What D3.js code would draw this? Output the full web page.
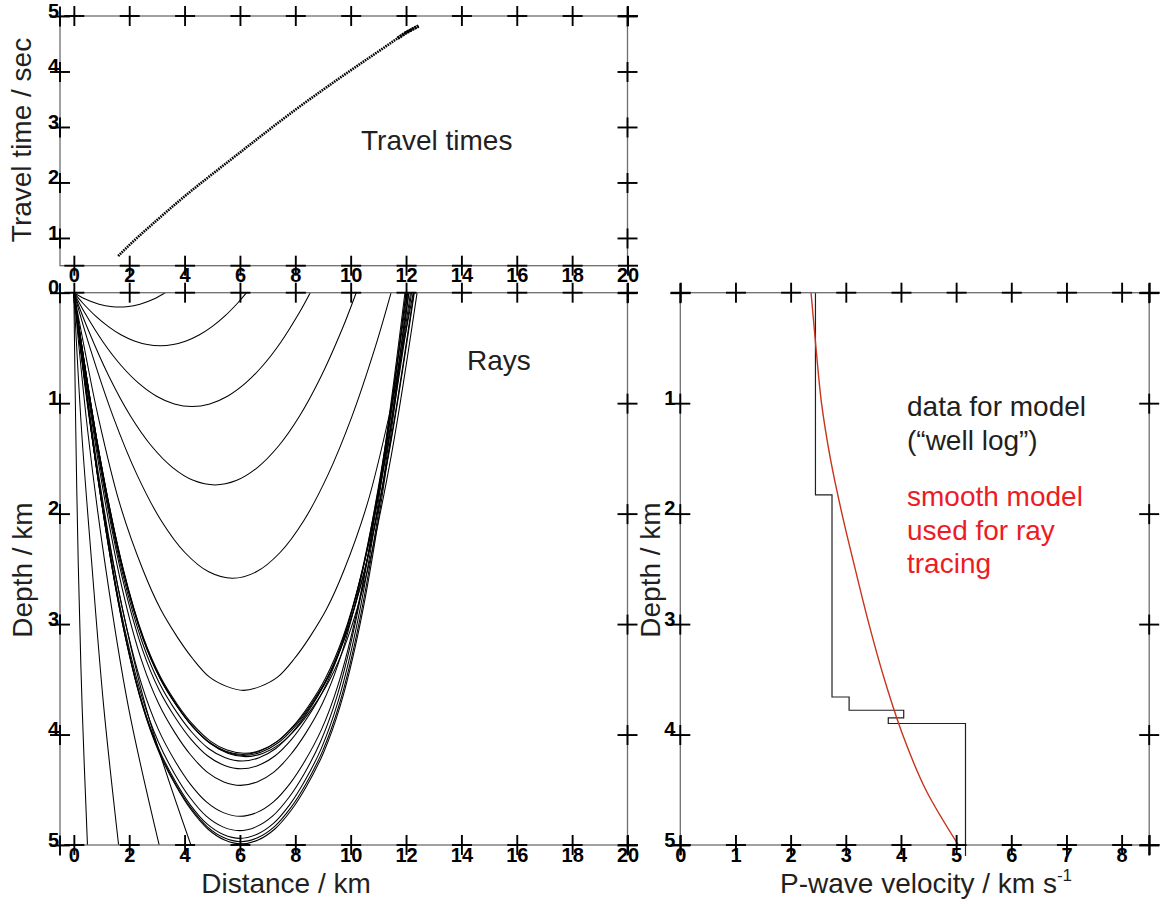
<!DOCTYPE html>
<html><head><meta charset="utf-8">
<script src="https://cdn.jsdelivr.net/npm/d3@7"></script>
<style>body{margin:0;background:#fff}svg{display:block}</style>
</head><body>
<svg id="c" width="1160" height="906"></svg>
<script>
// ---------------- data ----------------
const distTicks = [0,2,4,6,8,10,12,14,16,18,20];
const timeTicks = [1,2,3,4,5];
const depthTicks = [0,1,2,3,4,5];
const velTicks = [0,1,2,3,4,5,6,7,8];

// travel time picks (distance km, time s)
const ttDistance = [1.6, 2, 3, 4, 5, 6, 7, 8, 9, 10, 11, 11.7, 12, 12.45];
const ttTime     = [0.675, 0.87, 1.32, 1.75, 2.15, 2.54, 2.93, 3.31, 3.67, 4.02, 4.36, 4.60, 4.70, 4.82];
const ttClusterDistance = [11.7, 12.0, 12.45];
const ttClusterTime = [4.60, 4.70, 4.82];

// well log (step model)
const wellDepth    = [0, 1.83, 1.83, 3.66, 3.66, 3.78, 3.78, 3.85, 3.85, 3.90, 3.90, 5.1];
const wellVelocity = [2.45, 2.45, 2.75, 2.75, 3.06, 3.06, 4.05, 4.05, 3.77, 3.77, 5.17, 5.17];

// smooth model
const smoothDepth    = [0, 0.5, 1.0, 1.5, 2.0, 2.5, 3.0, 3.5, 4.0, 4.5, 5.0];
const smoothVelocity = [2.37, 2.46, 2.56, 2.72, 2.93, 3.17, 3.42, 3.70, 4.03, 4.45, 5.04];

// rays: [distance km, depth km]
const ray01 = [[0,0],[0.41,0.057],[0.91,0.104],[1.4,0.127],[1.65,0.13],[1.9,0.127],[2.39,0.104],[2.89,0.057],[3.3,0]];
const ray02 = [[0,0],[0.312,0.091],[0.78,0.21],[1.248,0.307],[1.716,0.383],[2.184,0.437],[2.652,0.469],[3.12,0.48],[3.588,0.469],[4.056,0.437],[4.524,0.383],[4.992,0.307],[5.46,0.21],[5.928,0.091],[6.24,0]];
const ray03 = [[0,0],[0.427,0.196],[1.068,0.451],[1.708,0.659],[2.349,0.821],[2.989,0.937],[3.63,1.007],[4.27,1.03],[4.91,1.007],[5.55,0.937],[6.19,0.821],[6.83,0.659],[7.47,0.451],[8.11,0.196],[8.54,0]];
const ray04 = [[0,0],[0.51,0.331],[1.275,0.761],[2.04,1.114],[2.805,1.388],[3.57,1.583],[4.335,1.701],[5.1,1.74],[5.865,1.701],[6.63,1.583],[7.395,1.388],[8.16,1.114],[8.925,0.761],[9.69,0.331],[10.2,0]];
const ray05 = [[0,0],[0.573,0.491],[1.433,1.131],[2.292,1.654],[3.152,2.062],[4.011,2.352],[4.871,2.527],[5.73,2.585],[6.59,2.527],[7.45,2.352],[8.31,2.062],[9.17,1.654],[10.03,1.131],[10.89,0.491],[11.46,0]];
const ray06 = [[0,0],[0.429,0.565],[0.858,1.098],[1.655,1.908],[2.513,2.52],[3.126,2.862],[3.739,3.118],[4.291,3.312],[4.904,3.481],[5.517,3.564],[6.13,3.6],[6.743,3.564],[7.356,3.481],[7.969,3.312],[8.521,3.118],[9.134,2.862],[9.747,2.52],[10.605,1.908],[11.402,1.098],[11.831,0.565],[12.26,0]];
const ray07 = [[0,0],[0.923,1.46],[1.784,2.502],[2.522,3.128],[3.137,3.482],[3.752,3.732],[4.305,3.911],[4.92,4.057],[5.535,4.141],[6.15,4.17],[6.765,4.141],[7.38,4.057],[7.995,3.911],[8.549,3.732],[9.164,3.482],[9.779,3.128],[10.517,2.502],[11.378,1.46],[12.3,0]];
const ray08 = [[0,0],[0.915,1.463],[1.769,2.508],[2.501,3.135],[3.111,3.49],[3.721,3.741],[4.27,3.921],[4.88,4.067],[5.49,4.151],[6.1,4.18],[6.71,4.151],[7.32,4.067],[7.93,3.921],[8.479,3.741],[9.089,3.49],[9.699,3.135],[10.431,2.508],[11.285,1.463],[12.2,0]];
const ray09 = [[0,0],[0.921,1.467],[1.781,2.514],[2.517,3.143],[3.131,3.499],[3.745,3.75],[4.298,3.93],[4.912,4.077],[5.526,4.161],[6.14,4.19],[6.754,4.161],[7.368,4.077],[7.982,3.93],[8.535,3.75],[9.149,3.499],[9.763,3.143],[10.499,2.514],[11.359,1.467],[12.28,0]];
const ray10 = [[0,0],[0.93,1.47],[1.798,2.52],[2.542,3.15],[3.162,3.507],[3.782,3.759],[4.34,3.94],[4.96,4.087],[5.58,4.171],[6.2,4.2],[6.82,4.171],[7.44,4.087],[8.06,3.94],[8.618,3.759],[9.238,3.507],[9.858,3.15],[10.602,2.52],[11.47,1.47],[12.4,0]];
const ray11 = [[0,0],[0.912,1.484],[1.763,2.544],[2.493,3.18],[3.101,3.54],[3.709,3.795],[4.256,3.977],[4.864,4.126],[5.472,4.21],[6.08,4.24],[6.688,4.21],[7.296,4.126],[7.904,3.977],[8.451,3.795],[9.059,3.54],[9.667,3.18],[10.397,2.544],[11.248,1.484],[12.16,0]];
const ray12 = [[0,0],[0.908,1.509],[1.755,2.586],[2.481,3.233],[3.086,3.599],[3.691,3.857],[4.235,4.043],[4.84,4.194],[5.445,4.28],[6.05,4.31],[6.655,4.28],[7.26,4.194],[7.865,4.043],[8.41,3.857],[9.015,3.599],[9.62,3.233],[10.346,2.586],[11.193,1.509],[12.1,0]];
const ray13 = [[0,0],[0.903,1.561],[1.746,2.676],[2.468,3.345],[3.07,3.724],[3.672,3.992],[4.214,4.183],[4.816,4.34],[5.418,4.429],[6.02,4.46],[6.622,4.429],[7.224,4.34],[7.826,4.183],[8.368,3.992],[8.97,3.724],[9.572,3.345],[10.294,2.676],[11.137,1.561],[12.04,0]];
const ray14 = [[0,0],[0.9,1.659],[1.74,2.844],[2.46,3.555],[3.06,3.958],[3.66,4.242],[4.2,4.446],[4.8,4.612],[5.4,4.707],[6.0,4.74],[6.6,4.707],[7.2,4.612],[7.8,4.446],[8.34,4.242],[8.94,3.958],[9.54,3.555],[10.26,2.844],[11.1,1.659],[12.0,0]];
const ray15 = [[0,0],[0.897,1.705],[1.734,2.922],[2.452,3.653],[3.05,4.066],[3.648,4.359],[4.186,4.568],[4.784,4.739],[5.382,4.836],[5.98,4.87],[6.578,4.836],[7.176,4.739],[7.774,4.568],[8.312,4.359],[8.91,4.066],[9.508,3.653],[10.226,2.922],[11.063,1.705],[11.96,0]];
const ray16 = [[0,0],[0.9,1.729],[1.74,2.964],[2.46,3.705],[3.06,4.125],[3.66,4.421],[4.2,4.634],[4.8,4.807],[5.4,4.905],[6.0,4.94],[6.6,4.905],[7.2,4.807],[7.8,4.634],[8.34,4.421],[8.94,4.125],[9.54,3.705],[10.26,2.964],[11.1,1.729],[12.0,0]];
const ray17 = [[0,0],[0.905,1.74],[1.749,2.982],[2.472,3.728],[3.075,4.15],[3.678,4.448],[4.221,4.662],[4.824,4.836],[5.427,4.935],[6.03,4.97],[6.633,4.935],[7.236,4.836],[7.839,4.662],[8.382,4.448],[8.985,4.15],[9.588,3.728],[10.311,2.982],[11.156,1.74],[12.06,0]];
const ray18 = [[0,0],[0.908,1.747],[1.755,2.994],[2.481,3.743],[3.086,4.167],[3.691,4.466],[4.235,4.681],[4.84,4.855],[5.445,4.955],[6.05,4.99],[6.655,4.955],[7.26,4.855],[7.865,4.681],[8.41,4.466],[9.015,4.167],[9.62,3.743],[10.346,2.994],[11.193,1.747],[12.1,0]];
const ray19 = [[0,0],[0.07,1.25],[0.16,2.46],[0.3,3.75],[0.5,5.05]];
const ray20 = [[0,0],[0.28,1.25],[0.65,2.46],[1.08,3.75],[1.64,5.05]];
const ray21 = [[0,0],[0.5,1.25],[1.13,2.46],[1.97,3.75],[3.13,5.05]];
const ray22 = [[0,0],[0.62,1.25],[1.43,2.46],[2.6,3.75],[4.3,5.05]];
const rays = [ray01,ray02,ray03,ray04,ray05,ray06,ray07,ray08,ray09,ray10,ray11,ray12,ray13,ray14,ray15,ray16,ray17,ray18,ray19,ray20,ray21,ray22];

// ---------------- drawing ----------------
const svg = d3.select('#c');
const FONT = "'Liberation Sans', Arial, Helvetica, sans-serif";
const TEXT = '#231f20';
const RED = '#ed1c24';

const xDist = d3.scaleLinear().domain([-0.5, 20]).range([60, 627.5]);
const yTime = d3.scaleLinear().domain([0.5, 5]).range([265.7, 16]);
const yDepth = d3.scaleLinear().domain([0, 5]).range([292.7, 845]);
const xVel = d3.scaleLinear().domain([0, 8.5]).range([680.3, 1149.2]);

function frame(x0, x1, y0, y1) {
  svg.append('rect').attr('x', x0).attr('y', y0).attr('width', x1 - x0).attr('height', y1 - y0)
    .attr('fill', 'none').attr('stroke', '#6d6e71').attr('stroke-width', 1.3);
}

function crossAxis(axisGen, translate, ticks, showLabels, opts) {
  const g = svg.append('g').attr('transform', translate);
  g.call(axisGen.tickValues(ticks).tickSize(0).tickPadding(opts.pad || 0)
    .tickFormat(showLabels ? d3.format('d') : () => ''));
  g.select('.domain').remove();
  g.selectAll('.tick line').remove();
  g.selectAll('.tick').each(function() {
    const t = d3.select(this);
    t.insert('line', 'text').attr('x1', -10).attr('x2', 10).attr('y1', 0).attr('y2', 0)
      .attr('stroke', '#000').attr('stroke-width', 1.9);
    t.insert('line', 'text').attr('x1', 0).attr('x2', 0).attr('y1', -10).attr('y2', 10)
      .attr('stroke', '#000').attr('stroke-width', 1.9);
  });
  g.selectAll('text').attr('font-family', FONT).attr('font-size', 20).attr('font-weight', 'bold')
    .attr('fill', '#000');
  if (opts.dy !== undefined) g.selectAll('text').attr('dy', opts.dy);
  return g;
}

// ---- top panel: travel times
frame(xDist(-0.5), xDist(20), yTime(5), yTime(0.5));
crossAxis(d3.axisTop(xDist), `translate(0,${yTime(5)})`, distTicks, false, {});
crossAxis(d3.axisBottom(xDist), `translate(0,${yTime(0.5)})`, distTicks, true, {pad: 2.5, dy: '0.71em'});
crossAxis(d3.axisLeft(yTime), `translate(${xDist(-0.5)},0)`, timeTicks, true, {pad: 1, dy: '0.06em'});
crossAxis(d3.axisRight(yTime), `translate(${xDist(20)},0)`, timeTicks, false, {});

const ttLine = d3.line().x((d, i) => xDist(ttDistance[i])).y((d, i) => yTime(ttTime[i])).curve(d3.curveMonotoneX);
svg.append('path').attr('d', ttLine(ttDistance)).attr('fill', 'none').attr('stroke', '#000')
  .attr('stroke-width', 2.6).attr('stroke-dasharray', '1.6,0.9');
const ttLine2 = d3.line().x((d, i) => xDist(ttClusterDistance[i])).y((d, i) => yTime(ttClusterTime[i]));
svg.append('path').attr('d', ttLine2(ttClusterDistance)).attr('fill', 'none').attr('stroke', '#000')
  .attr('stroke-width', 3.6).attr('stroke-dasharray', '2,0.8');

svg.append('text').attr('x', 361).attr('y', 150).text('Travel times')
  .attr('font-family', FONT).attr('font-size', 28).attr('fill', TEXT);
svg.append('text').attr('transform', `translate(31,${140}) rotate(-90)`).attr('text-anchor', 'middle')
  .text('Travel time / sec').attr('font-family', FONT).attr('font-size', 28).attr('fill', TEXT);

// ---- ray panel
svg.append('clipPath').attr('id', 'rayclip').append('rect')
  .attr('x', xDist(-0.5)).attr('y', yDepth(0)).attr('width', xDist(20) - xDist(-0.5)).attr('height', yDepth(5) - yDepth(0));
const rayLine = d3.line().x(d => xDist(d[0])).y(d => yDepth(d[1])).curve(d3.curveCatmullRom.alpha(0.5));
svg.append('g').attr('clip-path', 'url(#rayclip)').selectAll('path').data(rays).join('path')
  .attr('d', rayLine).attr('fill', 'none').attr('stroke', '#000').attr('stroke-width', 1.05);

frame(xDist(-0.5), xDist(20), yDepth(0), yDepth(5));
crossAxis(d3.axisTop(xDist), `translate(0,${yDepth(0)})`, distTicks, false, {});
crossAxis(d3.axisBottom(xDist), `translate(0,${yDepth(5)})`, distTicks, true, {pad: 2.5, dy: '0.71em'});
crossAxis(d3.axisLeft(yDepth), `translate(${xDist(-0.5)},0)`, depthTicks, true, {pad: 1, dy: '0.06em'});
crossAxis(d3.axisRight(yDepth), `translate(${xDist(20)},0)`, depthTicks, false, {});

svg.append('text').attr('x', 467).attr('y', 370).text('Rays')
  .attr('font-family', FONT).attr('font-size', 28).attr('fill', TEXT);
svg.append('text').attr('x', 286).attr('y', 893).attr('text-anchor', 'middle').text('Distance / km')
  .attr('font-family', FONT).attr('font-size', 28).attr('fill', TEXT);
svg.append('text').attr('transform', `translate(32,${570}) rotate(-90)`).attr('text-anchor', 'middle')
  .text('Depth / km').attr('font-family', FONT).attr('font-size', 28).attr('fill', TEXT);

// ---- velocity panel
const velTicksAll = velTicks.concat([8.5]);
const wellLine = d3.line().x((d, i) => xVel(wellVelocity[i])).y((d, i) => yDepth(wellDepth[i]));
svg.append('path').attr('d', wellLine(wellDepth)).attr('fill', 'none').attr('stroke', '#231f20').attr('stroke-width', 1.2);
const smoothLine = d3.line().x((d, i) => xVel(smoothVelocity[i])).y((d, i) => yDepth(smoothDepth[i])).curve(d3.curveMonotoneY);
svg.append('path').attr('d', smoothLine(smoothDepth)).attr('fill', 'none').attr('stroke', '#c8341c').attr('stroke-width', 1.4);

frame(xVel(0), xVel(8.5), yDepth(0), yDepth(5));
crossAxis(d3.axisTop(xVel), `translate(0,${yDepth(0)})`, velTicksAll, false, {});
const vb = crossAxis(d3.axisBottom(xVel), `translate(0,${yDepth(5)})`, velTicksAll, true, {pad: 2.5, dy: '0.71em'});
vb.selectAll('.tick text').filter(d => d === 8.5).text('');
const vl = crossAxis(d3.axisLeft(yDepth), `translate(${xVel(0)},0)`, depthTicks, true, {pad: 5, dy: '0.06em'});
vl.selectAll('.tick text').filter(d => d === 0).text('');
crossAxis(d3.axisRight(yDepth), `translate(${xVel(8.5)},0)`, depthTicks, false, {});

const vt = svg.append('text').attr('x', 780).attr('y', 893)
  .attr('font-family', FONT).attr('font-size', 28).attr('fill', TEXT);
vt.append('tspan').text('P-wave velocity / km s');
vt.append('tspan').attr('font-size', 17).attr('dy', -12).text('-1');
svg.append('text').attr('transform', `translate(660,${570}) rotate(-90)`).attr('text-anchor', 'middle')
  .text('Depth / km').attr('font-family', FONT).attr('font-size', 28).attr('fill', TEXT);

const notesBlack = ['data for model', '(\u201Cwell log\u201D)'];
const notesBlackY = [416, 450];
const notesRed = ['smooth model', 'used for ray', 'tracing'];
const notesRedY = [506, 540, 573];
svg.selectAll('text.nb').data(notesBlack).join('text').attr('class', 'nb')
  .attr('x', 907).attr('y', (d, i) => notesBlackY[i]).text(d => d)
  .attr('font-family', FONT).attr('font-size', 28).attr('fill', TEXT);
svg.selectAll('text.nr').data(notesRed).join('text').attr('class', 'nr')
  .attr('x', 907).attr('y', (d, i) => notesRedY[i]).text(d => d)
  .attr('font-family', FONT).attr('font-size', 28).attr('fill', RED);
</script>
</body></html>
